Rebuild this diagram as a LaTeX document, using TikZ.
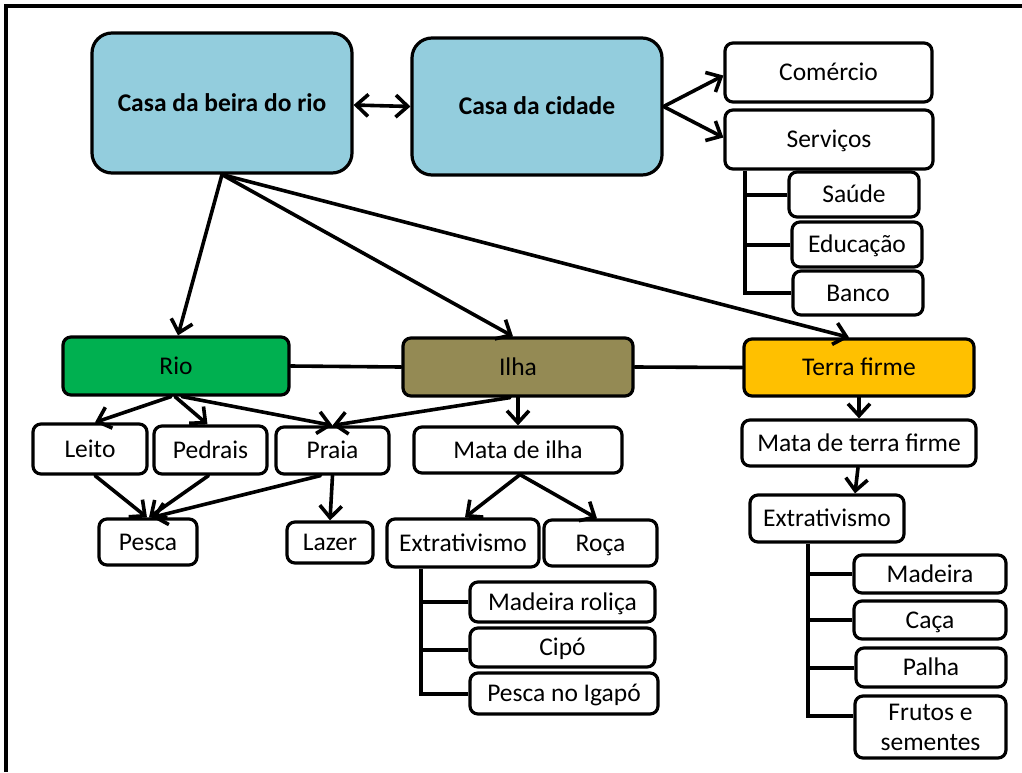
\documentclass[tikz,border=0pt]{standalone}
\usepackage{fontspec}
\setmainfont{Carlito}
\usetikzlibrary{arrows.meta}
\definecolor{casablue}{HTML}{93CDDD}
\definecolor{riogreen}{HTML}{00B050}
\definecolor{ilhaolive}{HTML}{948A54}
\definecolor{terragold}{HTML}{FFC000}
\tikzset{
  box/.style={draw=black, line width=3.2pt, rounded corners=8pt, fill=white,
    inner sep=0pt, text height=16.5pt, text depth=0pt,
    font=\fontsize{25.5}{30}\selectfont},
  bigbox/.style={box, rounded corners=20pt, fill=casablue, font=\fontsize{25.5}{30}\selectfont\bfseries},
  conn/.style={line width=3.6pt, line cap=round},
  arr/.style={conn, -{Straight Barb[length=12pt,width=22pt]}},
  darr/.style={conn, {Straight Barb[length=12pt,width=22pt]}-{Straight Barb[length=12pt,width=22pt]}},
  tree/.style={line width=4pt},
}
\newcommand{\bx}[6][box]{\node[#1, minimum width=#4pt, minimum height=#5pt] (#2) at (#3) {#6};}
\begin{document}
\begin{tikzpicture}[x=1pt, y=-1pt]
\useasboundingbox (0,0) rectangle (1022,772);
% frame
\draw[line width=3.5pt] (6,772) -- (6,6) -- (1022,6);

% top row
\bx[bigbox]{casa}{222,103}{260}{140}{Casa da beira do rio}
\bx[bigbox]{cidade}{537,106.5}{250}{137}{Casa da cidade}
\bx{comercio}{828.5,72.5}{207}{59}{Comércio}
\bx{servicos}{829,139.5}{208}{59}{Serviços}
\bx{saude}{854,194.5}{130}{45}{Saúde}
\bx{educacao}{857,244.5}{130}{45}{Educação}
\bx{banco}{858,293}{130}{44}{Banco}

% environments
\bx[box, fill=riogreen]{rio}{176,366}{226}{58}{Rio}
\bx[box, fill=ilhaolive]{ilha}{518,367}{230}{58}{Ilha}
\bx[box, fill=terragold]{terra}{859,367.5}{230}{57}{Terra firme}

% rio branch
\bx{leito}{90,449}{114}{50}{Leito}
\bx{pedrais}{210.5,450}{113}{48}{Pedrais}
\bx{praia}{332.5,450.5}{113}{47}{Praia}
\bx{pesca}{148,542}{98}{46}{Pesca}
\bx{lazer}{330,542.5}{86}{41}{Lazer}

% ilha branch
\bx{mataIlha}{518,450}{208}{46}{Mata de ilha}
\bx{extrI}{463,543}{152}{48}{Extrativismo}
\bx{roca}{600.5,543}{113}{46}{Roça}
\bx{madRol}{562.5,602}{185}{40}{Madeira roliça}
\bx{cipo}{562.5,647.5}{185}{39}{Cipó}
\bx{pescaIg}{564,693.5}{188}{41}{Pesca no Igapó}

% terra firme branch
\bx{mataTF}{859,443}{234}{46}{Mata de terra firme}
\bx{extrTF}{827,518.5}{154}{47}{Extrativismo}
\bx{madeira}{930,574}{152}{38}{Madeira}
\bx{caca}{930,620}{152}{38}{Caça}
\bx{palha}{931,667.5}{150}{39}{Palha}
\node[box, align=center, text height=46.5pt, minimum width=151pt, minimum height=62pt] (frutos) at (930.5,727) {Frutos e\\sementes};

% connectors: top row
\draw[darr] ([yshift=-2pt]casa.east) -- (cidade.west);
\draw[arr] (cidade.east) -- ([yshift=-3pt]comercio.west);
\draw[arr] (cidade.east) -- ([yshift=2pt]servicos.west);
\coordinate (sv) at ([xshift=22pt]servicos.south west);
\draw[tree] (sv) |- (banco.west);
\draw[tree] (saude.west) -- (saude.west -| sv);
\draw[tree] (educacao.west) -- (educacao.west -| sv);

% connectors: from the riverside house
\draw[arr] (casa.south) -- ([xshift=2pt]rio.north);
\draw[arr] (casa.south) -- ([xshift=-5pt]ilha.north);
\draw[arr] (casa.south) -- ([xshift=-10pt]terra.north);

% links between environments
\draw[conn] (rio.east) -- (ilha.west);
\draw[conn] (ilha.east) -- (terra.west);

% rio branch
\draw[arr] ([xshift=-5pt]rio.south) -- ([xshift=5pt]leito.north);
\draw[arr] ([xshift=-1pt]rio.south) -- ([xshift=-3pt]pedrais.north);
\draw[arr] ([xshift=6pt]rio.south) -- (praia.north);
\draw[arr] ([xshift=-8pt]ilha.south) -- (praia.north);
\draw[arr] ([xshift=5pt]leito.south) -- ([xshift=-1pt]pesca.north);
\draw[arr] ([xshift=-2pt]pedrais.south) -- ([xshift=1pt]pesca.north);
\draw[arr] ([xshift=-12pt]praia.south) -- ([xshift=4pt]pesca.north);
\draw[arr] (praia.south) -- (lazer.north);

% ilha branch
\draw[arr] (ilha.south) -- (mataIlha.north);
\draw[arr] ([xshift=2pt]mataIlha.south) -- ([xshift=2pt]extrI.north);
\draw[arr] ([xshift=2pt]mataIlha.south) -- ([xshift=-3.5pt]roca.north);
\coordinate (ei) at ([xshift=36pt]extrI.south west);
\draw[tree] (ei) |- (pescaIg.west);
\draw[tree] (madRol.west) -- (madRol.west -| ei);
\draw[tree] ([yshift=-2pt]cipo.west) -- ([yshift=-2pt]cipo.west -| ei);

% terra firme branch
\draw[arr] (terra.south) -- (mataTF.north);
\draw[arr] ([xshift=-1pt]mataTF.south) -- ([xshift=28pt]extrTF.north);
\coordinate (et) at ([xshift=60pt]extrTF.south west);
\draw[tree] (et) |- ([yshift=11pt]frutos.west);
\draw[tree] (madeira.west) -- (madeira.west -| et);
\draw[tree] (caca.west) -- (caca.west -| et);
\draw[tree] (palha.west) -- (palha.west -| et);
\end{tikzpicture}
\end{document}
